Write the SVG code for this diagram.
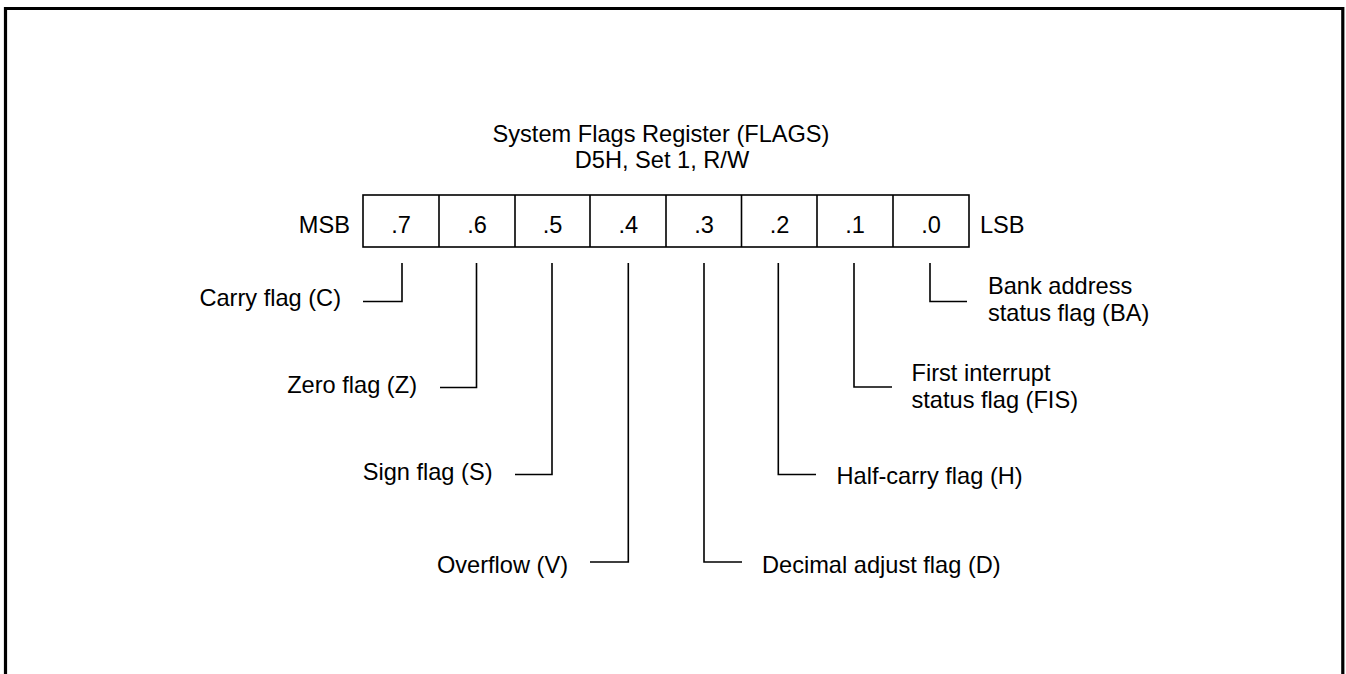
<svg xmlns="http://www.w3.org/2000/svg" width="1346" height="674" viewBox="0 0 1346 674">
<style>
text{font-family:"Liberation Sans",Arial,sans-serif;font-size:23.6px;fill:#000}
.c{text-anchor:middle}
.e{text-anchor:end}
.ln{fill:none;stroke:#000;stroke-width:1.6}
.frame{fill:none;stroke:#000;stroke-width:3.2}
</style>
<rect width="1346" height="674" fill="#fff"/>
<path class="frame" d="M5.5 674V8.5H1342.8V674"/>
<g id="title">
<text class="c" x="661" y="141.5">System Flags Register (FLAGS)</text>
<text class="c" x="662" y="168.3">D5H, Set 1, R/W</text>
</g>
<g id="register">
<rect class="ln" x="363" y="195" width="606" height="52"/>
<path class="ln" d="M439 195V247M515 195V247M590 195V247M666 195V247M741.5 195V247M817 195V247M893 195V247"/>
<text class="e" x="350" y="232.5">MSB</text>
<text class="c" x="401" y="232.5">.7</text>
<text class="c" x="477" y="232.5">.6</text>
<text class="c" x="552.5" y="232.5">.5</text>
<text class="c" x="628.3" y="232.5">.4</text>
<text class="c" x="704" y="232.5">.3</text>
<text class="c" x="779.5" y="232.5">.2</text>
<text class="c" x="855" y="232.5">.1</text>
<text class="c" x="931" y="232.5">.0</text>
<text x="980" y="232.5">LSB</text>
</g>
<g id="connectors">
<path class="ln" d="M402 263V301.5H363"/>
<path class="ln" d="M476.5 263V387.5H440"/>
<path class="ln" d="M552 263V474.5H515"/>
<path class="ln" d="M628.3 263V562H590"/>
<path class="ln" d="M704 263V562H742"/>
<path class="ln" d="M778.3 263V474.5H816"/>
<path class="ln" d="M854 263V387H892"/>
<path class="ln" d="M930 263V301.5H967"/>
</g>
<g id="bit7"><text class="e" x="341" y="305.5">Carry flag (C)</text></g>
<g id="bit6"><text class="e" x="417" y="392.5">Zero flag (Z)</text></g>
<g id="bit5"><text class="e" x="492.5" y="480">Sign flag (S)</text></g>
<g id="bit4"><text class="e" x="568" y="573">Overflow (V)</text></g>
<g id="bit3"><text x="762" y="573">Decimal adjust flag (D)</text></g>
<g id="bit2"><text x="836.5" y="484">Half-carry flag (H)</text></g>
<g id="bit1"><text x="911.5" y="380.5">First interrupt</text><text x="911.5" y="407.5">status flag (FIS)</text></g>
<g id="bit0"><text x="988" y="294.3">Bank address</text><text x="988" y="321">status flag (BA)</text></g>
</svg>
